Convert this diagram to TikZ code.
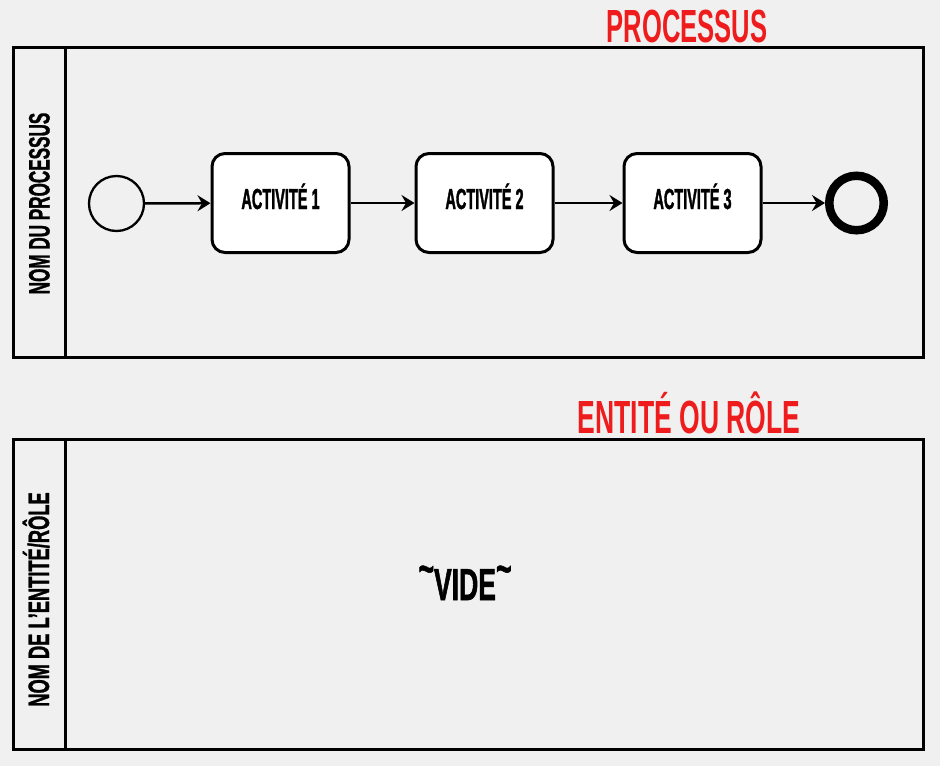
\documentclass[tikz,border=0pt]{standalone}
\usepackage{fontspec}
\usetikzlibrary{arrows.meta}
\newfontfamily\titlefontA{Liberation Sans}[FakeStretch=0.55]
\newfontfamily\titlefontB{Liberation Sans}[FakeStretch=0.57]
\newfontfamily\actfont{Liberation Sans}[FakeStretch=0.50,FakeBold=1.2]
\newfontfamily\lanefontA{Liberation Sans}[FakeStretch=0.58,FakeBold=1]
\newfontfamily\lanefontB{Liberation Sans}[FakeStretch=0.62,FakeBold=1]
\newfontfamily\videfont{Liberation Sans}[FakeStretch=0.59,FakeBold=1.2]
\definecolor{bggray}{HTML}{F0F0F0}
\definecolor{titlered}{HTML}{EE1C1C}
\tikzset{
  pool/.style={draw=black, line width=3pt},
  activity/.style={draw=black, fill=white, line width=3pt, rounded corners=13pt,
    minimum width=137pt, minimum height=99pt, inner sep=0pt,
    text height=20pt, text depth=8pt,
    font=\actfont\bfseries\fontsize{29}{31}\selectfont},
  startev/.style={circle, draw=black, line width=2.3pt, minimum size=55pt, inner sep=0pt},
  endev/.style={circle, draw=black, line width=8.5pt, minimum size=54.5pt, inner sep=0pt},
  flow/.style={line width=2.5pt, -{Stealth[length=13pt,width=16pt,inset=4.5pt]}},
  pooltitle/.style={anchor=base, text=titlered, inner sep=0pt},
  lanelabel/.style={anchor=base, rotate=90, inner sep=0pt},
}
\begin{document}
\begin{tikzpicture}[x=1pt, y=-1pt]
  \fill[bggray] (0,0) rectangle (940,766);
  \useasboundingbox (0,0) rectangle (940,766);

  % top pool
  \draw[pool] (13,47.5) rectangle (923,357.5);
  \draw[pool] (65,47.5) -- (65,357.5);
  \node[pooltitle, font=\titlefontA\bfseries\fontsize{46.5}{48}\selectfont] (t1) at (687,42) {PROCESSUS};
  \node[lanelabel, font=\lanefontA\bfseries\fontsize{29.5}{31}\selectfont] (l1) at (49.5,203.5) {NOM DU PROCESSUS};

  \node[startev] (s) at (116.5,203.5) {};
  \node[activity] (a1) at (280.5,203) {ACTIVITÉ 1};
  \node[activity] (a2) at (484.5,203) {ACTIVITÉ 2};
  \node[activity] (a3) at (692.5,203) {ACTIVITÉ 3};
  \node[endev] (e) at (856.5,203) {};

  \draw[flow] (s) -- (a1);
  \draw[flow] (a1) -- (a2);
  \draw[flow] (a2) -- (a3);
  \draw[flow] (a3) -- (e);

  % bottom pool
  \draw[pool] (13,439) rectangle (923,749);
  \draw[pool] (65,439) -- (65,749);
  \node[pooltitle, font=\titlefontB\bfseries\fontsize{46.5}{48}\selectfont] (t2) at (689,433) {ENTITÉ OU RÔLE};
  \node[lanelabel, font=\lanefontB\bfseries\fontsize{29.5}{31}\selectfont] (l2) at (49,599.5) {NOM DE L’ENTITÉ/RÔLE};
  \node[anchor=base, inner sep=0pt, font=\videfont\bfseries\fontsize{45}{47}\selectfont] (v) at (465,600)
    {\raisebox{16pt}{\textasciitilde}VIDE\raisebox{16pt}{\textasciitilde}};
\end{tikzpicture}
\end{document}
